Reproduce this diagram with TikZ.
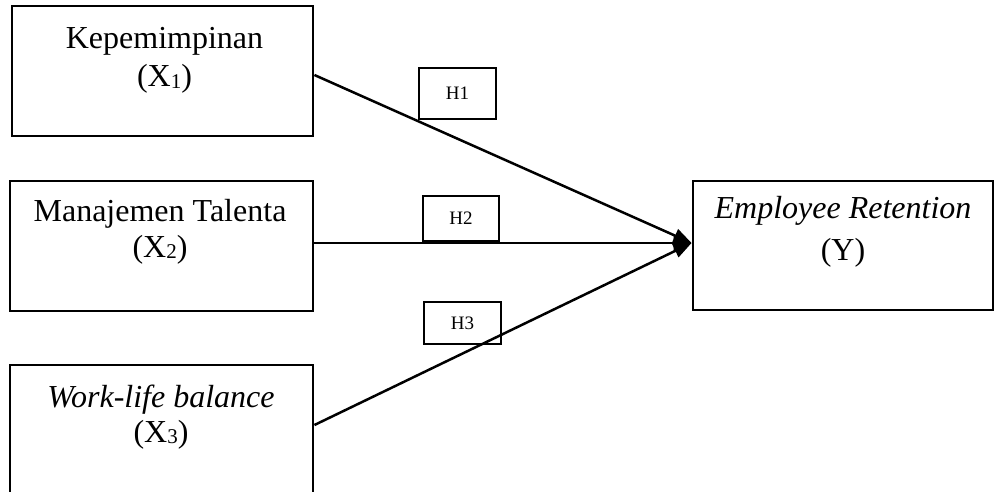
\documentclass[tikz,border=0pt]{standalone}
\usepackage{fontspec}
\setmainfont{Liberation Serif}
\usetikzlibrary{arrows.meta}
\newcommand{\lowsub}[1]{\raisebox{-1.5pt}{\fontsize{21}{21}\selectfont #1}}
\begin{document}
\begin{tikzpicture}[x=1pt,y=-1pt,
  box/.style={draw, line width=2.9pt, inner sep=0},
  hbox/.style={draw, line width=2pt, inner sep=0, font=\fontsize{19}{22}\selectfont},
  lbl/.style={font=\fontsize{32}{36}\selectfont, anchor=base, inner sep=0},
  conn/.style={line width=2.5pt, -{Triangle[length=18pt,width=14pt]}}]
\useasboundingbox (0,0) rectangle (995,492);
\clip (0,0) rectangle (995,492);
% main boxes
\node[box, minimum width=301pt, minimum height=130pt] (x1) at (162.5,71) {};
\node[box, minimum width=303pt, minimum height=130pt] (x2) at (161.5,246) {};
\node[box, minimum width=303pt, minimum height=130pt] (x3) at (161.5,430) {};
\node[box, minimum width=300pt, minimum height=129pt] (y) at (843,245.5) {};
% texts
\node[lbl] (x1a) at (164.5,49) {Kepemimpinan};
\node[lbl] (x1b) at (164.5,87) {(X\lowsub{1})};
\node[lbl] (x2a) at (160,221) {Manajemen Talenta};
\node[lbl] (x2b) at (160,257) {(X\lowsub{2})};
\node[lbl] (x3a) at (161,407) {\itshape Work-life balance};
\node[lbl] (x3b) at (161,442) {(X\lowsub{3})};
\node[lbl] (ya) at (843,218) {\itshape Employee Retention};
\node[lbl] (yb) at (843,260) {(Y)};
% hypothesis labels
\node[hbox, minimum width=77pt, minimum height=51pt] (h1) at (457.5,93.5) {H1\hspace{6pt}};
\node[hbox, minimum width=76pt, minimum height=45pt] (h2) at (461,218.5) {H2\hspace{6pt}};
\node[hbox, minimum width=77pt, minimum height=42pt] (h3) at (462.5,323) {H3\hspace{6pt}};
% connectors
\draw[conn] ([yshift=-4pt]x1.east) -- ([yshift=2.5pt]y.west);
\draw[conn] ([yshift=3pt]x2.east) -- ([yshift=2.5pt]y.west);
\draw[conn] ([yshift=5pt]x3.east) -- ([yshift=2.5pt]y.west);
\end{tikzpicture}
\end{document}
